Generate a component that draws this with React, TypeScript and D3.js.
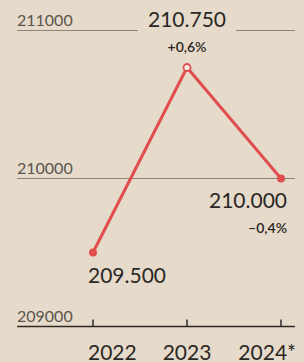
import React, { useEffect, useRef } from 'react';
import * as d3 from 'd3';

const years = ['2022', '2023', '2024*'];
const values = [209500, 210750, 210000];
const valueLabels = ['209.500', '210.750', '210.000'];
const changeLabels = ['', '+0,6%', '–0,4%'];
const yTicks = [209000, 210000, 211000];

const W = 304;
const H = 362;
const FONT = 'Lato, "Open Sans", sans-serif';
const RED = '#e04e4e';

const App = () => {
    const ref = useRef<SVGSVGElement>(null);

    useEffect(() => {
        const svg = d3.select(ref.current);
        svg.selectAll('*').remove();

        svg.append('rect').attr('width', W).attr('height', H).attr('fill', '#e6dacb');

        const x = d3.scalePoint().domain(years).range([93, 281]);
        const y = d3.scaleLinear().domain([209000, 211000]).range([326.5, 30.5]);

        // gridlines (top one broken around the 2023 label)
        yTicks.slice(1).forEach(t => {
            const segs = t === 211000 ? [[17, 138], [236, 295]] : [[17, 295]];
            segs.forEach(([a, b]) => {
                svg.append('line')
                    .attr('x1', a).attr('x2', b)
                    .attr('y1', y(t)).attr('y2', y(t))
                    .attr('stroke', '#8c8578').attr('stroke-width', 1.2);
            });
        });

        yTicks.forEach(t => {
            svg.append('text')
                .attr('x', 17).attr('y', y(t) - 5)
                .attr('font-family', FONT).attr('font-size', 16)
                .attr('fill', '#5a554d')
                .text(String(t));
        });

        // bottom axis
        const axis = svg.append('g').attr('transform', `translate(0,${y(209000)})`);
        axis.append('line').attr('x1', 17).attr('x2', 295)
            .attr('stroke', '#2e2b27').attr('stroke-width', 1.5);
        years.forEach((yr, i) => {
            const px = x(yr)!;
            axis.append('line').attr('x1', px).attr('x2', px).attr('y1', 0).attr('y2', -7)
                .attr('stroke', '#2e2b27').attr('stroke-width', 1.5);
            const anchor = i === 0 ? 'start' : i === years.length - 1 ? 'end' : 'middle';
            const dx = i === 0 ? -5 : i === years.length - 1 ? 15 : 0;
            axis.append('text')
                .attr('x', px + dx).attr('y', 33)
                .attr('text-anchor', anchor)
                .attr('font-family', FONT).attr('font-size', 21)
                .attr('fill', '#2a2724')
                .text(yr);
        });

        const line = d3.line<number>()
            .x((_, i) => x(years[i])!)
            .y(d => y(d));

        svg.append('path')
            .datum(values)
            .attr('d', line)
            .attr('fill', 'none')
            .attr('stroke', RED)
            .attr('stroke-width', 3);

        values.forEach((v, i) => {
            svg.append('circle')
                .attr('cx', x(years[i])!).attr('cy', y(v))
                .attr('r', i === 1 ? 3.5 : 4)
                .attr('fill', i === 1 ? '#f3ece3' : RED)
                .attr('stroke', RED).attr('stroke-width', i === 1 ? 1.8 : 0);
        });

        // value annotations
        const ann = [
            { x: x(years[0])! - 5, y: y(values[0]) + 30, anchor: 'start' },
            { x: x(years[1])!, y: 27, anchor: 'middle' },
            { x: x(years[2])! + 6, y: y(values[2]) + 29, anchor: 'end' },
        ];
        ann.forEach((a, i) => {
            svg.append('text')
                .attr('x', a.x).attr('y', a.y)
                .attr('text-anchor', a.anchor)
                .attr('font-family', FONT).attr('font-size', 21)
                .attr('fill', '#2a2724')
                .text(valueLabels[i]);
            if (changeLabels[i]) {
                svg.append('text')
                    .attr('x', a.x).attr('y', a.y + 25)
                    .attr('text-anchor', a.anchor)
                    .attr('font-family', FONT).attr('font-size', 14)
                    .attr('font-weight', 600)
                    .attr('fill', '#2a2724')
                    .text(changeLabels[i]);
            }
        });
    }, []);

    return (
        <svg ref={ref} width={W} height={H}
            style={{ position: 'absolute', left: 0, top: 0, display: 'block' }} />
    );
};

export default App;
